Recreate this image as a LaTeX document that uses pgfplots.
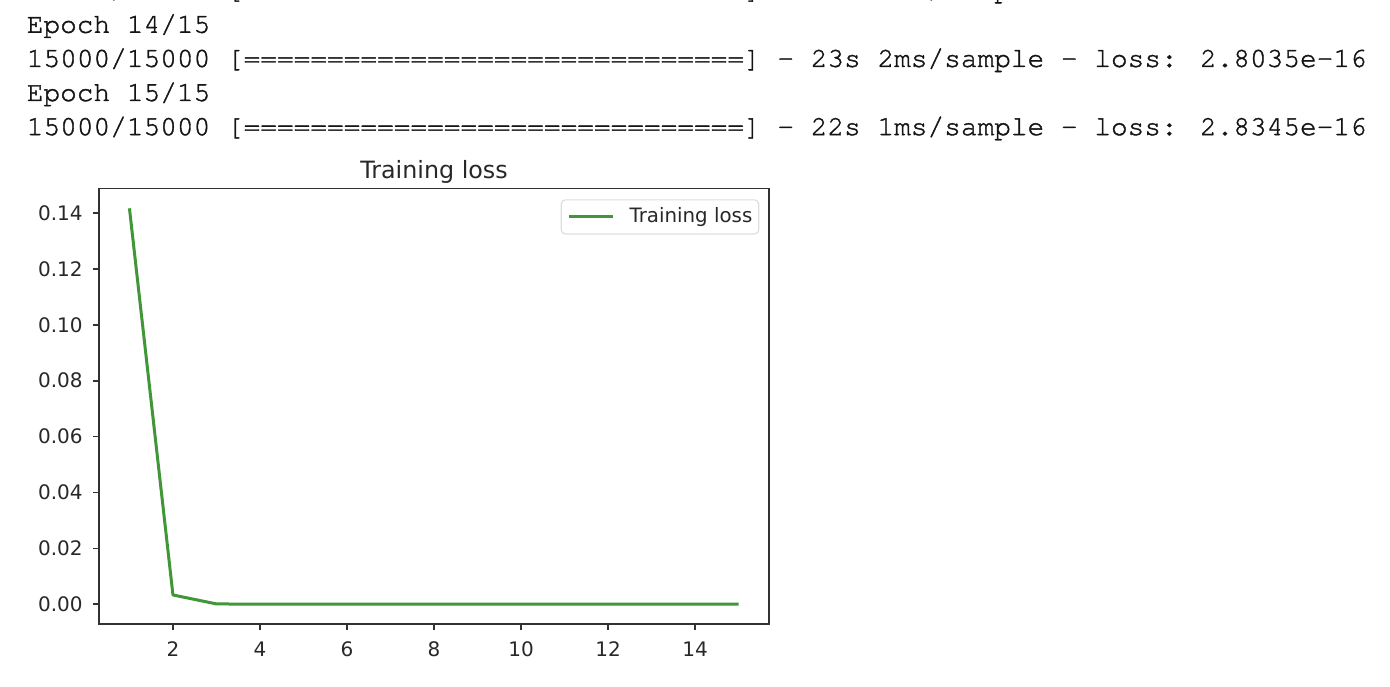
\documentclass[border=0pt]{standalone}
\usepackage{fontspec}
\usepackage{pgfplots}
\pgfplotsset{compat=1.18}
\newfontfamily\dejavu{DejaVu Sans}
\newfontfamily\mono{texgyrecursor}[Extension=.otf, UprightFont=*-regular, FakeBold=1.4]
\definecolor{lossgreen}{RGB}{65,150,55}
\definecolor{spine}{RGB}{50,50,50}
\definecolor{ticktext}{RGB}{40,40,40}
\begin{document}
\begin{tikzpicture}
\path[use as bounding box] (0pt,0pt) rectangle (695pt,343pt);
\begin{scope}[every node/.style={anchor=base west, inner sep=0pt, font=\mono\fontsize{13.9}{17}\selectfont, text=black!92}]
\node at (13.2pt,343.9pt) {15000/15000 [==============================] - 22s 1ms/sample - loss: 2.7863e-16};
\node at (13.2pt,326.6pt) {Epoch 14/15};
\node at (13.2pt,309.55pt) {15000/15000 [==============================] - 23s 2ms/sample - loss: 2.8035e-16};
\node at (13.2pt,292.5pt) {Epoch 15/15};
\node at (13.2pt,275.45pt) {15000/15000 [==============================] - 22s 1ms/sample - loss: 2.8345e-16};
\end{scope}
\begin{axis}[
  at={(49.5pt,31pt)}, anchor=south west,
  scale only axis, width=335pt, height=217.75pt,
  xmin=0.3, xmax=15.7, ymin=-0.00709, ymax=0.1488,
  xtick={2,4,6,8,10,12,14},
  ytick={0,0.02,0.04,0.06,0.08,0.1,0.12,0.14},
  scaled y ticks=false,
  yticklabel style={/pgf/number format/fixed, /pgf/number format/fixed zerofill, /pgf/number format/precision=2, anchor=east, xshift=-5pt},
  /pgf/number format/assume math mode=true,
  tick label style={font=\dejavu\fontsize{10}{12}\selectfont, text=ticktext, inner sep=0pt},
  xticklabel style={anchor=north, yshift=-5.85pt},
  tick align=outside, tickpos=left,
  major tick length=3pt,
  every tick/.style={spine, line width=0.8pt},
  axis line style={spine, line width=0.8pt},
  title={Training loss},
  title style={at={(0.5,1)}, anchor=base, yshift=-0.95pt, inner sep=0pt, font=\dejavu\fontsize{11.9}{14}\selectfont, text=ticktext},
  legend style={at={(1,1)}, anchor=north east, xshift=-4.85pt, yshift=-5.4pt,
    draw=black!13, line width=0.6pt, rounded corners=2pt, fill=white,
    inner xsep=3.2pt, inner ysep=4pt,
    font=\dejavu\fontsize{9.9}{12}\selectfont, text=ticktext,
    nodes={inner sep=0pt}, column sep=7.5pt},
  legend cell align=left,
  legend image code/.code={\draw[#1] (0pt,0pt) -- (22pt,0pt);},
]
\addplot[lossgreen, line width=1.5pt, line join=round] coordinates {
(1,0.1417) (2,0.0033) (3,0.0001) (4,0) (5,0) (6,0) (7,0) (8,0)
(9,0) (10,0) (11,0) (12,0) (13,0) (14,0) (15,0)
};
\addlegendentry{Training loss}
\end{axis}
\end{tikzpicture}
\end{document}
